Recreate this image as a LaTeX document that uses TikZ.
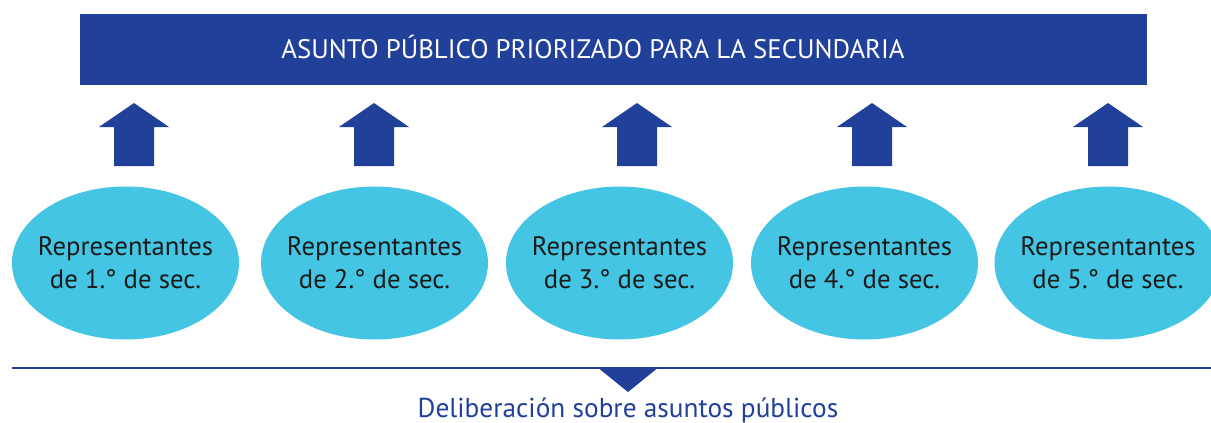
\documentclass[tikz,border=0pt]{standalone}
\usepackage{fontspec}
\setmainfont{PT Sans}
\usetikzlibrary{shapes.geometric}
\definecolor{dblue}{HTML}{21409A}
\definecolor{lblue}{HTML}{44C5E3}
\definecolor{txt}{HTML}{1A1A1A}
\tikzset{
  grp/.style={ellipse, fill=lblue, inner sep=0pt, minimum width=227pt, minimum height=153pt},
  grptext/.style={text=txt, align=center, inner sep=0pt, font=\fontsize{26.7}{33}\selectfont},
  uparrow/.pic={\fill[dblue] (-20,63) -- (-20,24) -- (-35,24) -- (0,0) -- (35,24) -- (20,24) -- (20,63) -- cycle;}
}
\begin{document}
\begin{tikzpicture}[x=1pt,y=-1pt]
\useasboundingbox (0,0) rectangle (1211,423);
\clip (0,0) rectangle (1211,423);
% title bar
\node[fill=dblue, minimum width=1067pt, minimum height=71pt, inner sep=0pt] (title) at (613.5,49.5) {};
\node[text=white, font=\fontsize{26.8}{30}\selectfont, anchor=base] (ttext) at (593,58) {ASUNTO PÚBLICO PRIORIZADO PARA LA SECUNDARIA};
% ellipses
\node[grp] (e1) at (125.5,263) {};
\node[grp] (e2) at (374.5,263) {};
\node[grp] (e3) at (619.5,263) {};
\node[grp] (e4) at (864.5,263) {};
\node[grp] (e5) at (1108,263) {};
\node[grptext] (t1) at (e1.center) {Representantes\\de 1.° de sec.};
\node[grptext] (t2) at (e2.center) {Representantes\\de 2.° de sec.};
\node[grptext] (t3) at (e3.center) {Representantes\\de 3.° de sec.};
\node[grptext] (t4) at (e4.center) {Representantes\\de 4.° de sec.};
\node[grptext] (t5) at (e5.center) {Representantes\\de 5.° de sec.};
% arrows
\coordinate (a1) at (134,103);
\coordinate (a2) at (374,103);
\coordinate (a3) at (637,103);
\coordinate (a4) at (872,103);
\coordinate (a5) at (1108,103);
\foreach \a in {a1,a2,a3,a4,a5} \pic at (\a) {uparrow};
% base line
\coordinate (l0) at (12,368);
\coordinate (l1) at (1215,368);
\draw[dblue, line width=2.5pt] (l0) -- (l1);
\coordinate (tri) at (628,369);
\fill[dblue] ([xshift=-28.5pt]tri) -- ([xshift=28.5pt]tri) -- ([yshift=-23pt]tri) -- cycle;
\node[text=dblue, font=\fontsize{27.3}{30}\selectfont, anchor=base] (delib) at (628,417) {Deliberación sobre asuntos públicos};
\end{tikzpicture}
\end{document}
